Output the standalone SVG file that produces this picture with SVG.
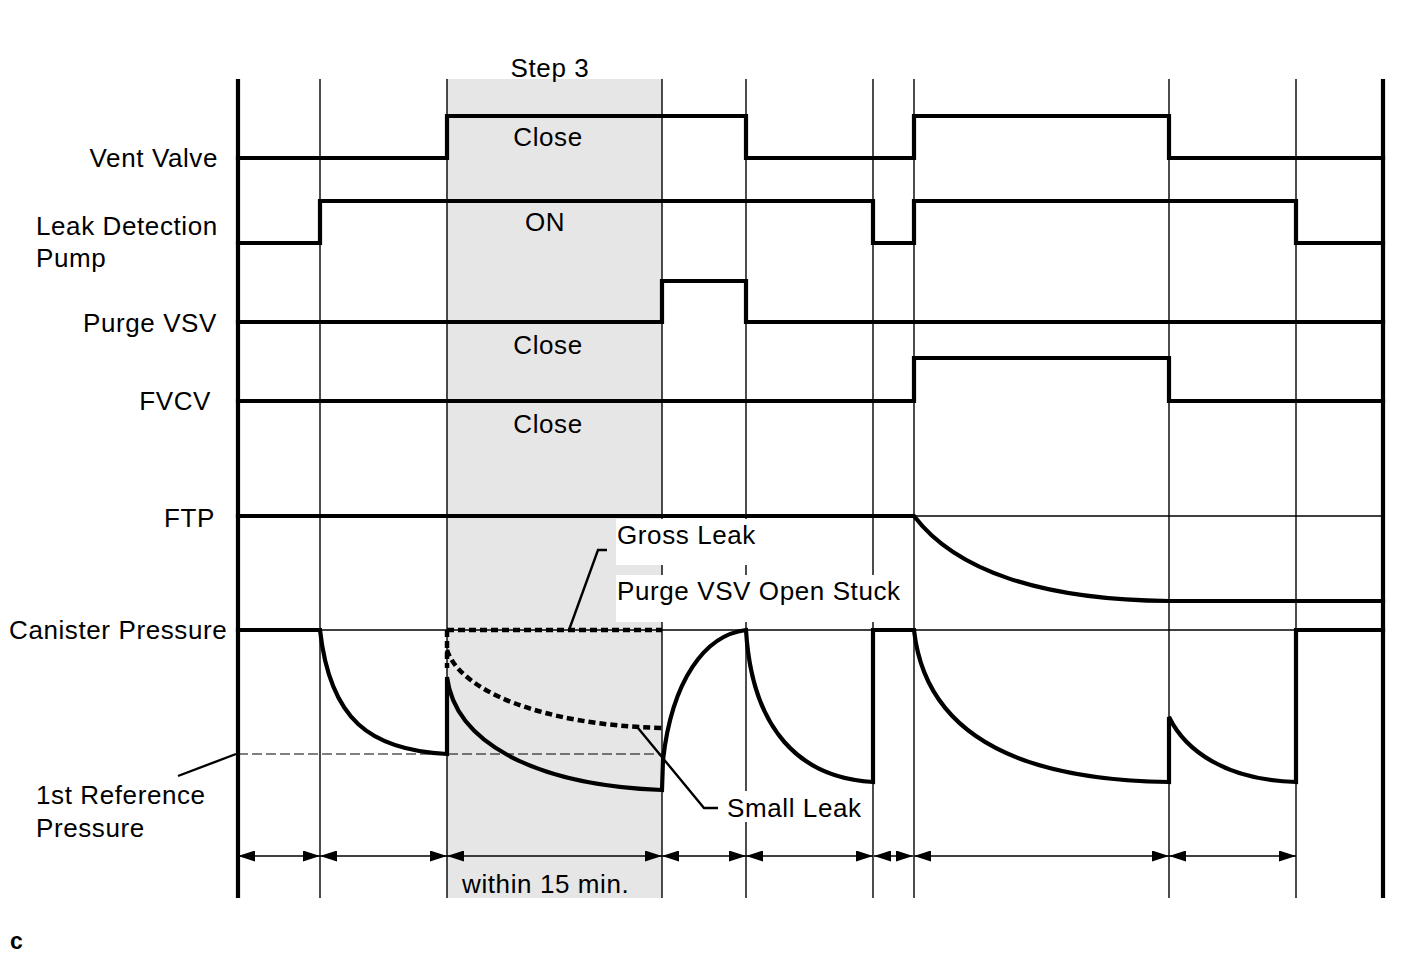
<svg xmlns="http://www.w3.org/2000/svg" width="1424" height="959" viewBox="0 0 1424 959">
<defs>
<style>
.thin{stroke:#000;stroke-width:1.4;fill:none}
.dash{stroke:#000;stroke-width:1.2;fill:none;stroke-dasharray:10 4}
.sig{stroke:#000;stroke-width:4.2;fill:none;stroke-linejoin:miter;stroke-linecap:square}
.frame{stroke:#000;stroke-width:4.2;fill:none}
.dot{stroke:#000;stroke-width:4.5;fill:none;stroke-dasharray:7 4}
.lead{stroke:#000;stroke-width:2.4;fill:none}
.dim{stroke:#000;stroke-width:1.4;fill:none;marker-start:url(#arr);marker-end:url(#arr)}
text{font-family:"Liberation Sans",Arial,sans-serif;font-size:26px;letter-spacing:0.6px;fill:#000}
.m{text-anchor:middle}
.e{text-anchor:end}
</style>
<marker id="arr" viewBox="0 0 17 11" refX="17" refY="5.5" markerWidth="17" markerHeight="11" markerUnits="userSpaceOnUse" orient="auto-start-reverse">
<path d="M0,0 L17,5.5 L0,11 z" fill="#000"/>
</marker>
</defs>
<rect x="0" y="0" width="1424" height="959" fill="#fff"/>
<g id="background">
<rect x="447" y="79" width="215" height="819" fill="#e6e6e6"/>
</g>
<g id="grid">
<line class="thin" x1="320" y1="79" x2="320" y2="898"/>
<line class="thin" x1="447" y1="79" x2="447" y2="898"/>
<line class="thin" x1="662" y1="79" x2="662" y2="898"/>
<line class="thin" x1="746" y1="79" x2="746" y2="898"/>
<line class="thin" x1="873" y1="79" x2="873" y2="898"/>
<line class="thin" x1="914" y1="79" x2="914" y2="898"/>
<line class="thin" x1="1169" y1="79" x2="1169" y2="898"/>
<line class="thin" x1="1296" y1="79" x2="1296" y2="898"/>
<line class="thin" x1="238" y1="516" x2="1383" y2="516"/>
<line class="thin" x1="238" y1="630" x2="1383" y2="630"/>
<line class="dash" x1="238" y1="754" x2="662" y2="754"/>
</g>
<g id="label-boxes">
<rect x="616" y="519" width="142" height="46" fill="#fff"/>
<rect x="616" y="575" width="295" height="47" fill="#fff"/>
<rect x="722" y="791" width="146" height="31" fill="#fff"/>
</g>
<g id="frame">
<line class="frame" x1="238" y1="79" x2="238" y2="898"/>
<line class="frame" x1="1383" y1="79" x2="1383" y2="898"/>
</g>
<g id="vent-valve">
<polyline class="sig" points="238,158 447,158 447,116 746,116 746,158 914,158 914,116 1169,116 1169,158 1383,158"/>
</g>
<g id="leak-detection-pump">
<polyline class="sig" points="238,243 320,243 320,201 873,201 873,243 914,243 914,201 1296,201 1296,243 1383,243"/>
</g>
<g id="purge-vsv">
<polyline class="sig" points="238,322 662,322 662,281 746,281 746,322 1383,322"/>
</g>
<g id="fvcv">
<polyline class="sig" points="238,401 914,401 914,358 1169,358 1169,401 1383,401"/>
</g>
<g id="ftp">
<path class="sig" d="M238,516 L914,516 C955,570 1040,600 1169,601 L1383,601"/>
</g>
<g id="canister-pressure">
<path class="sig" d="M238,630 L320,630 C330,720 370,750 447,754 L447,677 C455,740 530,785 662,790 L663,760 C672,680 705,635 746,630 C752,730 800,778 873,782 L873,630 L914,630 C925,730 1010,780 1169,782 L1169,717 C1185,750 1225,780 1296,782 L1296,630 L1383,630"/>
</g>
<g id="leak-curves">
<path class="dot" d="M447,630 L662,630"/>
<path class="dot" d="M447,630 L447,668"/>
<path class="dot" d="M447,650 C460,690 540,725 662,728"/>
</g>
<g id="connectors">
<polyline class="lead" points="569,630 598,550 607,550"/>
<polyline class="lead" points="638,728 704,808 718,808"/>
<line class="lead" x1="236" y1="754" x2="178" y2="776"/>
<line class="dim" x1="238" y1="856" x2="320" y2="856"/>
<line class="dim" x1="320" y1="856" x2="447" y2="856"/>
<line class="dim" x1="447" y1="856" x2="662" y2="856"/>
<line class="dim" x1="662" y1="856" x2="746" y2="856"/>
<line class="dim" x1="746" y1="856" x2="873" y2="856"/>
<line class="dim" x1="874" y1="856" x2="913" y2="856"/>
<line class="dim" x1="914" y1="856" x2="1169" y2="856"/>
<line class="dim" x1="1169" y1="856" x2="1296" y2="856"/>
</g>
<g id="labels">
<text class="m" x="550" y="77">Step 3</text>
<text class="m" x="548" y="146">Close</text>
<text class="e" x="218" y="167">Vent Valve</text>
<text x="36" y="235">Leak Detection</text>
<text x="36" y="267">Pump</text>
<text class="m" x="545" y="231">ON</text>
<text class="e" x="217" y="332">Purge VSV</text>
<text class="m" x="548" y="354">Close</text>
<text class="e" x="211" y="410">FVCV</text>
<text class="m" x="548" y="433">Close</text>
<text class="e" x="215" y="527">FTP</text>
<text x="617" y="544">Gross Leak</text>
<text x="617" y="600">Purge VSV Open Stuck</text>
<text x="9" y="639">Canister Pressure</text>
<text x="36" y="804">1st Reference</text>
<text x="36" y="837">Pressure</text>
<text x="727" y="817">Small Leak</text>
<text x="462" y="893">within 15 min.</text>
<text x="10" y="949" style="font-size:23px;font-weight:bold;letter-spacing:0">c</text>
</g>
</svg>
